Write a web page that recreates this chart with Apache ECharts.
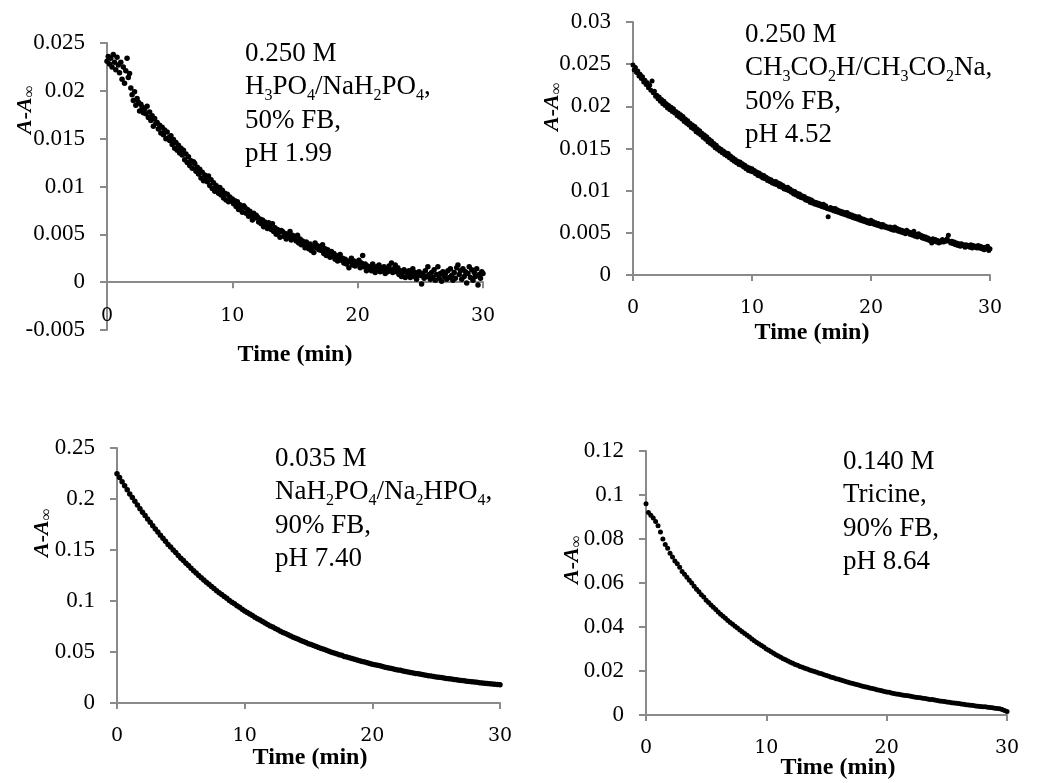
<!DOCTYPE html>
<html>
<head>
<meta charset="utf-8">
<script src="https://cdn.jsdelivr.net/npm/echarts@6/dist/echarts.min.js"></script>
<style>
html,body{margin:0;padding:0;background:#fff}
#bd{width:1050px;height:783px}
</style>
</head>
<body>
<div id="bd"></div>
<script>
// minutes between two readings in each run
var stepPhos = 0.1;
var stepAcet = 0.1;
var stepPbs = 0.2;
var stepTric = 0.2;

// A - A_inf readings, one row per minute
var phosY = [
0.0231,0.0236,0.0228,0.0234,0.0225,0.0238,0.0230,0.0222,0.0235,0.0227,
0.0219,0.0230,0.0212,0.0225,0.0208,0.0221,0.0234,0.0214,0.0218,0.0203,
0.0196,0.0190,0.0199,0.0185,0.0192,0.0188,0.0179,0.0186,0.0183,0.0177,
0.0181,0.0176,0.0184,0.0172,0.0178,0.0169,0.0174,0.0163,0.0171,0.0166,
0.0167,0.0160,0.0164,0.0156,0.0162,0.0154,0.0159,0.0150,0.0157,0.0151,
0.0148,0.0153,0.0144,0.0149,0.0140,0.0146,0.0138,0.0143,0.0135,0.0140,
0.0133,0.0138,0.0128,0.0134,0.0125,0.0131,0.0122,0.0127,0.0119,0.0126,
0.0124,0.0116,0.0120,0.0113,0.0118,0.0109,0.0115,0.0106,0.0112,0.0108,
0.0105,0.0111,0.0101,0.0107,0.0098,0.0104,0.0095,0.0101,0.0097,0.0093,
0.0099,0.0091,0.0096,0.0088,0.0093,0.0086,0.0092,0.0084,0.0089,0.0085,
0.0087,0.0082,0.0085,0.0079,0.0084,0.0076,0.0081,0.0078,0.0073,0.0080,
0.0078,0.0072,0.0076,0.0069,0.0074,0.0070,0.0065,0.0072,0.0067,0.0070,
0.0068,0.0063,0.0066,0.0061,0.0065,0.0058,0.0063,0.0060,0.0056,0.0062,
0.0059,0.0055,0.0061,0.0053,0.0057,0.0050,0.0055,0.0052,0.0047,0.0054,
0.0053,0.0048,0.0051,0.0045,0.0050,0.0047,0.0053,0.0044,0.0049,0.0046,
0.0047,0.0043,0.0049,0.0041,0.0045,0.0039,0.0043,0.0040,0.0036,0.0042,
0.0038,0.0035,0.0040,0.0033,0.0037,0.0031,0.0041,0.0036,0.0038,0.0034,
0.0037,0.0033,0.0039,0.0030,0.0035,0.0028,0.0034,0.0031,0.0026,0.0032,
0.0027,0.0030,0.0024,0.0028,0.0022,0.0026,0.0029,0.0023,0.0025,0.0020,
0.0024,0.0019,0.0022,0.0015,0.0021,0.0025,0.0018,0.0022,0.0017,0.0020,
0.0019,0.0023,0.0015,0.0020,0.0028,0.0016,0.0019,0.0012,0.0017,0.0014,
0.0016,0.0012,0.0019,0.0014,0.0010,0.0016,0.0013,0.0018,0.0011,0.0015,
0.0012,0.0016,0.0009,0.0014,0.0011,0.0017,0.0013,0.0020,0.0010,0.0014,
0.0018,0.0011,0.0015,0.0008,0.0012,0.0006,0.0010,0.0013,0.0005,0.0011,
0.0008,0.0012,0.0005,0.0009,0.0014,0.0006,0.0010,0.0003,0.0008,0.0011,
0.0007,-0.0002,0.0009,0.0004,0.0012,0.0006,0.0016,0.0008,0.0003,0.0010,
0.0005,0.0013,0.0002,0.0008,0.0016,0.0004,0.0009,0.0001,0.0011,0.0006,
0.0009,0.0003,0.0012,0.0005,0.0014,0.0007,0.0002,0.0010,0.0004,0.0015,
0.0018,0.0008,0.0012,0.0003,0.0014,0.0006,0.0011,-0.0001,0.0009,0.0016,
0.0005,0.0013,0.0002,0.0010,0.0006,0.0014,-0.0003,0.0008,0.0004,0.0011,
0.0009
];

var acetY = [
0.0249,0.0243,0.0246,0.0240,0.0242,0.0236,0.0238,0.0233,0.0235,0.0229,
0.0231,0.0226,0.0228,0.0222,0.0225,0.0219,0.0230,0.0216,0.0218,0.0212,
0.0213,0.0209,0.0211,0.0206,0.0208,0.0203,0.0206,0.0201,0.0203,0.0198,
0.0201,0.0196,0.0199,0.0194,0.0197,0.0192,0.0194,0.0189,0.0192,0.0187,
0.0190,0.0185,0.0188,0.0182,0.0185,0.0180,0.0183,0.0178,0.0180,0.0175,
0.0178,0.0173,0.0176,0.0170,0.0173,0.0168,0.0171,0.0166,0.0168,0.0163,
0.0166,0.0161,0.0164,0.0158,0.0161,0.0156,0.0159,0.0154,0.0156,0.0151,
0.0154,0.0149,0.0151,0.0147,0.0149,0.0145,0.0147,0.0143,0.0145,0.0141,
0.0144,0.0139,0.0141,0.0137,0.0139,0.0135,0.0137,0.0133,0.0135,0.0131,
0.0134,0.0130,0.0132,0.0128,0.0130,0.0126,0.0128,0.0124,0.0127,0.0123,
0.0126,0.0122,0.0124,0.0120,0.0122,0.0118,0.0121,0.0117,0.0119,0.0115,
0.0118,0.0114,0.0116,0.0112,0.0114,0.0111,0.0113,0.0109,0.0111,0.0108,
0.0111,0.0107,0.0109,0.0105,0.0108,0.0104,0.0106,0.0102,0.0104,0.0101,
0.0104,0.0100,0.0102,0.0098,0.0100,0.0096,0.0099,0.0095,0.0097,0.0093,
0.0096,0.0092,0.0094,0.0091,0.0093,0.0089,0.0091,0.0088,0.0090,0.0086,
0.0089,0.0085,0.0087,0.0084,0.0086,0.0083,0.0085,0.0082,0.0084,0.0081,
0.0084,0.0080,0.0082,0.0079,0.0069,0.0078,0.0080,0.0077,0.0079,0.0076,
0.0079,0.0075,0.0077,0.0074,0.0076,0.0073,0.0075,0.0072,0.0074,0.0071,
0.0074,0.0070,0.0072,0.0069,0.0071,0.0068,0.0070,0.0067,0.0069,0.0066,
0.0069,0.0065,0.0067,0.0064,0.0066,0.0063,0.0065,0.0062,0.0064,0.0061,
0.0065,0.0061,0.0063,0.0060,0.0062,0.0059,0.0061,0.0058,0.0060,0.0057,
0.0060,0.0057,0.0058,0.0056,0.0057,0.0055,0.0057,0.0054,0.0056,0.0053,
0.0057,0.0053,0.0055,0.0052,0.0054,0.0051,0.0053,0.0050,0.0052,0.0049,
0.0053,0.0050,0.0051,0.0048,0.0050,0.0047,0.0052,0.0046,0.0048,0.0045,
0.0049,0.0046,0.0047,0.0044,0.0046,0.0043,0.0045,0.0042,0.0044,0.0041,
0.0042,0.0038,0.0043,0.0040,0.0042,0.0039,0.0041,0.0038,0.0040,0.0039,
0.0042,0.0039,0.0041,0.0040,0.0043,0.0047,0.0040,0.0038,0.0040,0.0037,
0.0039,0.0036,0.0038,0.0035,0.0037,0.0034,0.0037,0.0035,0.0036,0.0033,
0.0036,0.0034,0.0035,0.0033,0.0036,0.0032,0.0035,0.0033,0.0034,0.0032,
0.0035,0.0032,0.0034,0.0031,0.0033,0.0030,0.0033,0.0031,0.0034,0.0029,
0.0031
];

var pbsY = [
0.2248,0.2210,0.2168,0.2130,0.2090,
0.2050,0.2015,0.1977,0.1942,0.1905,
0.1869,0.1838,0.1803,0.1771,0.1737,
0.1705,0.1676,0.1645,0.1616,0.1585,
0.1555,0.1529,0.1501,0.1475,0.1447,
0.1420,0.1396,0.1370,0.1347,0.1321,
0.1296,0.1274,0.1251,0.1229,0.1205,
0.1183,0.1163,0.1142,0.1122,0.1101,
0.1081,0.1063,0.1043,0.1026,0.1006,
0.0988,0.0972,0.0954,0.0938,0.0920,
0.0903,0.0888,0.0872,0.0857,0.0841,
0.0826,0.0813,0.0798,0.0785,0.0770,
0.0756,0.0744,0.0730,0.0718,0.0704,
0.0692,0.0681,0.0668,0.0658,0.0645,
0.0634,0.0624,0.0613,0.0603,0.0592,
0.0582,0.0573,0.0563,0.0554,0.0543,
0.0534,0.0526,0.0516,0.0508,0.0498,
0.0490,0.0483,0.0474,0.0467,0.0457,
0.0450,0.0444,0.0436,0.0429,0.0421,
0.0414,0.0408,0.0401,0.0395,0.0387,
0.0381,0.0376,0.0369,0.0364,0.0357,
0.0351,0.0346,0.0340,0.0335,0.0329,
0.0324,0.0320,0.0314,0.0310,0.0304,
0.0299,0.0295,0.0290,0.0286,0.0281,
0.0277,0.0273,0.0268,0.0265,0.0260,
0.0256,0.0253,0.0249,0.0246,0.0241,
0.0238,0.0235,0.0231,0.0228,0.0224,
0.0221,0.0218,0.0214,0.0212,0.0208,
0.0205,0.0203,0.0199,0.0197,0.0193,
0.0191,0.0188,0.0186,0.0183,0.0181,
0.0179
];

var tricY = [
0.0960,0.0920,0.0908,0.0895,0.0880,
0.0860,0.0832,0.0800,0.0775,0.0758,
0.0735,0.0718,0.0700,0.0688,0.0672,
0.0652,0.0640,0.0626,0.0612,0.0600,
0.0585,0.0572,0.0560,0.0547,0.0536,
0.0522,0.0511,0.0500,0.0490,0.0480,
0.0468,0.0458,0.0449,0.0440,0.0430,
0.0420,0.0412,0.0403,0.0396,0.0386,
0.0378,0.0370,0.0362,0.0354,0.0346,
0.0338,0.0330,0.0323,0.0316,0.0309,
0.0300,0.0294,0.0287,0.0281,0.0274,
0.0268,0.0262,0.0256,0.0251,0.0245,
0.0240,0.0235,0.0230,0.0226,0.0221,
0.0217,0.0213,0.0209,0.0205,0.0201,
0.0198,0.0194,0.0190,0.0187,0.0183,
0.0180,0.0176,0.0172,0.0169,0.0165,
0.0162,0.0159,0.0156,0.0152,0.0149,
0.0146,0.0143,0.0140,0.0137,0.0134,
0.0131,0.0128,0.0126,0.0123,0.0120,
0.0118,0.0115,0.0112,0.0110,0.0107,
0.0105,0.0103,0.0100,0.0098,0.0096,
0.0094,0.0092,0.0090,0.0089,0.0087,
0.0085,0.0083,0.0081,0.0080,0.0078,
0.0076,0.0075,0.0073,0.0071,0.0070,
0.0068,0.0066,0.0064,0.0063,0.0061,
0.0059,0.0058,0.0056,0.0055,0.0053,
0.0052,0.0050,0.0049,0.0047,0.0046,
0.0044,0.0043,0.0041,0.0040,0.0039,
0.0038,0.0037,0.0035,0.0034,0.0033,
0.0031,0.0029,0.0028,0.0025,0.0021,
0.0016
];

// axis ranges
var yMins = [-0.005, 0, 0, 0];
var yMaxs = [0.025, 0.03, 0.25, 0.12];
var ySteps = [0.005, 0.005, 0.05, 0.02];
var xMin = 0, xMax = 30, xStep = 10;

var notes = [
    '0.250 M\nH{s|3}PO{s|4}/NaH{s|2}PO{s|4},\n50% FB,\npH 1.99',
    '0.250 M\nCH{s|3}CO{s|2}H/CH{s|3}CO{s|2}Na,\n50% FB,\npH 4.52',
    '0.035 M\nNaH{s|2}PO{s|4}/Na{s|2}HPO{s|4},\n90% FB,\npH 7.40',
    '0.140 M\nTricine,\n90% FB,\npH 8.64'
];
var xTitle = 'Time (min)';

function toPairs(vals, step) {
    var out = [];
    for (var i = 0; i < vals.length; i++) {
        out.push([+(i * step).toFixed(2), vals[i]]);
    }
    return out;
}

var runs = [toPairs(phosY, stepPhos), toPairs(acetY, stepAcet), toPairs(pbsY, stepPbs), toPairs(tricY, stepTric)];
var dotSize = [5.5, 5, 5.5, 5];

// layout
var grids = [
    {left: 107, top: 43, width: 376, height: 287},
    {left: 633, top: 22, width: 357, height: 253},
    {left: 117, top: 448, width: 383, height: 255},
    {left: 646, top: 451, width: 361, height: 264}
];
var yTitlePos = [[25, 110], [552, 107], [42, 533], [572, 560]];
var xTitlePos = [[295, 355], [812, 333], [310, 758], [838, 768]];
var notePos = [[245, 37], [745, 18], [275, 442], [843, 445]];

var axisGray = '#8a8a8a';

var myChart = echarts.init(document.getElementById('bd'));

var xAxes = [], yAxes = [], series = [], graphic = [];
for (var i = 0; i < 4; i++) {
    // the time axis sits on y = 0 (lifted up when y goes negative)
    var lift = -grids[i].height * (0 - yMins[i]) / (yMaxs[i] - yMins[i]);
    xAxes.push({
        type: 'value', gridIndex: i, min: xMin, max: xMax, interval: xStep,
        position: 'bottom', offset: lift,
        axisLine: {onZero: false, lineStyle: {color: axisGray, width: 2}},
        axisTick: {length: 6, lineStyle: {color: axisGray, width: 2}},
        axisLabel: {margin: 24, color: '#000', fontFamily: 'DejaVu Serif', fontSize: 19},
        splitLine: {show: false}
    });
    yAxes.push({
        type: 'value', gridIndex: i, min: yMins[i], max: yMaxs[i], interval: ySteps[i],
        axisLine: {show: true, onZero: false, lineStyle: {color: axisGray, width: 2}},
        axisTick: {show: true, length: 7, lineStyle: {color: axisGray, width: 2}},
        axisLabel: {margin: 22, color: '#000', fontFamily: 'Liberation Serif', fontSize: 23},
        splitLine: {show: false}
    });
    series.push({
        type: 'scatter', xAxisIndex: i, yAxisIndex: i,
        data: runs[i], symbolSize: dotSize[i],
        itemStyle: {color: '#000', opacity: 1}, silent: true
    });
    graphic.push({
        type: 'text', x: yTitlePos[i][0], y: yTitlePos[i][1], rotation: Math.PI / 2,
        style: {
            text: '{a|A-A}{s|∞}', align: 'center', verticalAlign: 'middle',
            rich: {
                a: {fontFamily: 'Liberation Serif', fontStyle: 'italic', fontWeight: 'bold', fontSize: 22, lineHeight: 26, fill: '#000'},
                s: {fontFamily: 'Liberation Serif', fontWeight: 'bold', fontSize: 16, lineHeight: 17, verticalAlign: 'bottom', fill: '#000'}
            }
        }
    });
    graphic.push({
        type: 'text', x: xTitlePos[i][0], y: xTitlePos[i][1],
        style: {
            text: xTitle, align: 'center', verticalAlign: 'middle',
            font: 'bold 24px "Liberation Serif"', fill: '#000'
        }
    });
    graphic.push({
        type: 'text', x: notePos[i][0], y: notePos[i][1],
        style: {
            text: notes[i], align: 'left', verticalAlign: 'top',
            font: '27px "Liberation Serif"', lineHeight: 33.5, fill: '#000',
            rich: {
                s: {fontFamily: 'Liberation Serif', fontSize: 16, lineHeight: 23, verticalAlign: 'bottom', fill: '#000'}
            }
        }
    });
}

var option = {
    backgroundColor: '#fff',
    animation: false,
    grid: grids,
    xAxis: xAxes,
    yAxis: yAxes,
    series: series,
    graphic: graphic
};
myChart.setOption(option);
</script>
</body>
</html>
